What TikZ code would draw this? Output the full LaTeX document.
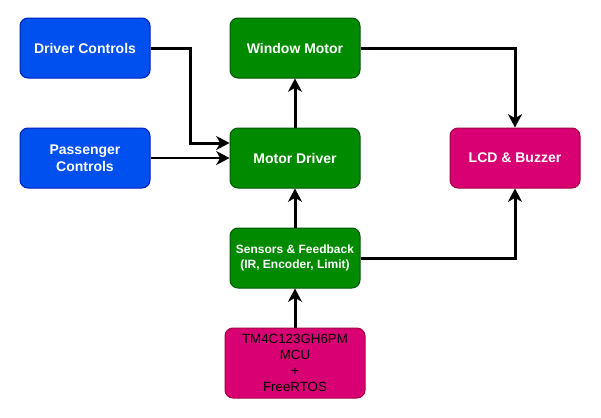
\documentclass[tikz,border=0pt]{standalone}
\usepackage{fontspec}
\setmainfont{Liberation Sans}
\usetikzlibrary{arrows.meta,positioning}
\definecolor{ctrlblue}{HTML}{0050EF}
\definecolor{ctrlblueline}{HTML}{001DBC}
\definecolor{motgreen}{HTML}{008A00}
\definecolor{motgreenline}{HTML}{005700}
\definecolor{outpink}{HTML}{D80073}
\definecolor{outpinkline}{HTML}{A50040}
\tikzstyle{blockbox} = [rectangle, rounded corners=6pt, line width=0.75pt,
    minimum width=97.5pt, minimum height=45pt, align=center, inner sep=2pt,
    font=\fontsize{10.5}{12.75}\selectfont\bfseries, text=white]
\tikzstyle{ctrlbox} = [blockbox, fill=ctrlblue, draw=ctrlblueline]
\tikzstyle{motbox} = [blockbox, fill=motgreen, draw=motgreenline]
\tikzstyle{outbox} = [blockbox, fill=outpink, draw=outpinkline]
\tikzstyle{flow} = [line width=2.25pt, -{Stealth[length=10pt,width=10.5pt,inset=3pt]}]

\begin{document}
\begin{tikzpicture}[x=0.75pt,y=-0.75pt]
    \useasboundingbox (0,0) rectangle (601,418);
    \node [ctrlbox] (driverctl) at (85,48) {Driver Controls};
    \node [ctrlbox] (passctl) at (85,158) {Passenger\\Controls};
    \node [motbox] (winmotor) at (295,48) {Window Motor};
    \node [motbox] (motdriver) at (295,158) {Motor Driver};
    \node [outbox] (lcd) at (515,158) {LCD \& Buzzer};
    \node [motbox, font=\fontsize{9}{11.25}\selectfont\bfseries] (sensors) at (295,258)
        {Sensors \& Feedback\\(IR, Encoder, Limit)};
    \node [outbox, minimum width=105pt, minimum height=52.5pt, text=black,
        font=\fontsize{10}{12}\selectfont] (mcu) at (295,363)
        {TM4C123GH6PM\\MCU\\+\\FreeRTOS};

    \draw [flow] (driverctl.east) -- ++(40,0) |- ([yshift=11.25pt]motdriver.west);
    \draw [flow, line width=1.5pt] (passctl.east) -- (motdriver.west);
    \draw [flow] (motdriver.north) -- (winmotor.south);
    \draw [flow] (winmotor.east) -| (lcd.north);
    \draw [flow] (sensors.north) -- (motdriver.south);
    \draw [flow] (sensors.east) -| (lcd.south);
    \draw [flow] (mcu.north) -- (sensors.south);
\end{tikzpicture}
\end{document}
